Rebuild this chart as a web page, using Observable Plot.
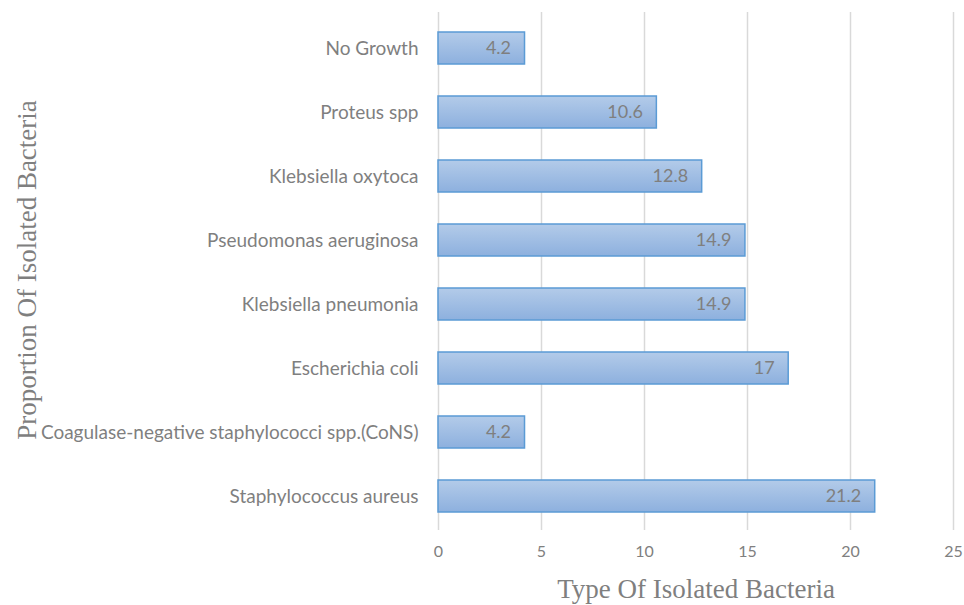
<!DOCTYPE html>
<html>
<head>
<meta charset="utf-8">
<script src="https://cdn.jsdelivr.net/npm/d3@7"></script>
<script src="https://cdn.jsdelivr.net/npm/@observablehq/plot@0.6"></script>
<style>
  html, body { margin: 0; padding: 0; background: #fff; }
  #chart { width: 964px; height: 605px; }
</style>
</head>
<body>
<div id="chart"></div>
<script>
const categories = [
  "No Growth",
  "Proteus spp",
  "Klebsiella oxytoca",
  "Pseudomonas aeruginosa",
  "Klebsiella pneumonia",
  "Escherichia coli",
  "Coagulase-negative staphylococci spp.(CoNS)",
  "Staphylococcus aureus"
];
const values = [4.2, 10.6, 12.8, 14.9, 14.9, 17, 4.2, 21.2];
const xTicks = [0, 5, 10, 15, 20, 25];
const xTitle = "Type Of Isolated Bacteria";
const yTitle = "Proportion Of Isolated Bacteria";

const data = categories.map((c, i) => ({category: c, value: values[i]}));

const defs = () => {
  const d = d3.create("svg:defs");
  const g = d.append("linearGradient").attr("id", "barGrad")
    .attr("x1", 0).attr("y1", 0).attr("x2", 0).attr("y2", 1);
  g.append("stop").attr("offset", "0%").attr("stop-color", "#b3cbe9");
  g.append("stop").attr("offset", "100%").attr("stop-color", "#8db0de");
  return d.node();
};

const chart = Plot.plot({
  width: 964,
  height: 605,
  marginLeft: 438,
  marginRight: 11,
  marginTop: 15,
  marginBottom: 76,
  style: {fontFamily: "Lato, 'Open Sans', sans-serif", fontSize: "16px", color: "#7f7f7f", background: "#fff"},
  x: {domain: [0, 25], ticks: xTicks, tickSize: 0, tickPadding: 16, label: null},
  y: {domain: categories, paddingInner: 0.5, paddingOuter: 0.25, tickSize: 0, tickPadding: 20, label: null},
  marks: [
    defs,
    Plot.gridX(xTicks, {stroke: "#d9d9d9", strokeOpacity: 1, strokeWidth: 1.5, insetTop: -3, insetBottom: -1}),
    Plot.barX(data, {x: "value", y: "category", fill: "url(#barGrad)", stroke: "#5b9bd5", strokeWidth: 1.5}),
    Plot.text(data, {x: "value", y: "category", text: d => String(d.value), textAnchor: "end", dx: -14, fill: "#7f7f7f", fontSize: 18}),
    Plot.axisX({ticks: xTicks, tickSize: 0, tickPadding: 16, fontSize: 16, fill: "#808080", label: null}),
    Plot.axisY({tickSize: 0, tickPadding: 20, fontSize: 19, fill: "#7f7f7f", label: null}),
    Plot.text([xTitle], {frameAnchor: "bottom", dy: 68, text: d => d, fontFamily: "'Liberation Serif', 'DejaVu Serif', serif", fontSize: 27, fill: "#7f7f7f"})
  ]
});

const svg = d3.select(chart);
svg.append("text")
  .attr("transform", "translate(36,270) rotate(-90)")
  .attr("text-anchor", "middle")
  .attr("font-family", "'Liberation Serif', 'DejaVu Serif', serif")
  .attr("font-size", 27)
  .attr("fill", "#7f7f7f")
  .text(yTitle);

document.getElementById("chart").appendChild(chart);
</script>
</body>
</html>
